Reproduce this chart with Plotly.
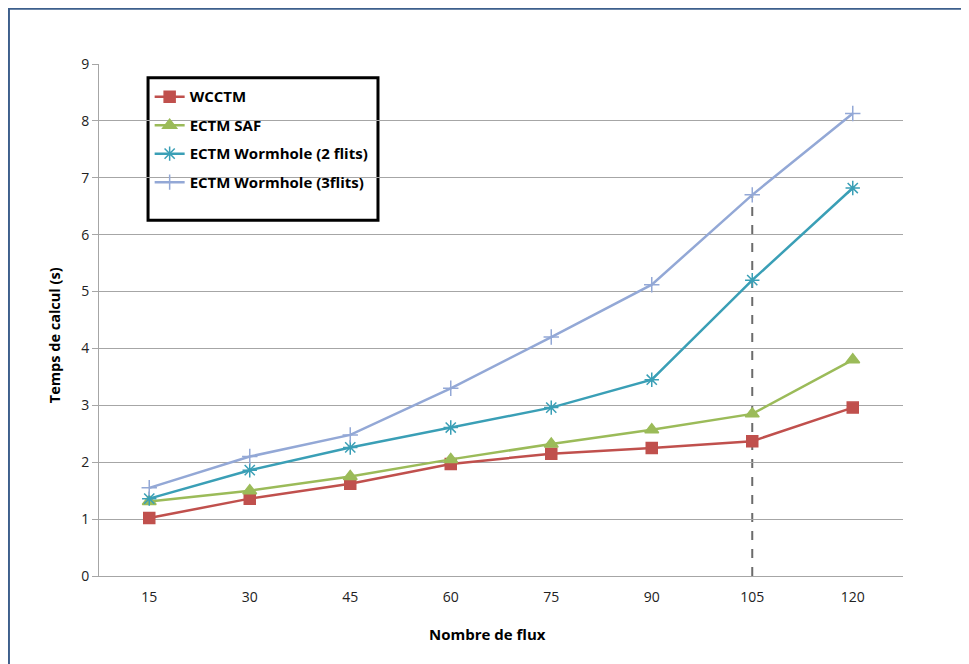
import plotly.graph_objects as go

# data
flux = ["15", "30", "45", "60", "75", "90", "105", "120"]
wcctm = [1.02, 1.36, 1.62, 1.97, 2.15, 2.25, 2.37, 2.96]
ectm_saf = [1.31, 1.50, 1.75, 2.05, 2.32, 2.57, 2.85, 3.80]
wormhole_2 = [1.36, 1.86, 2.26, 2.61, 2.96, 3.45, 5.20, 6.82]
wormhole_3 = [1.55, 2.10, 2.48, 3.30, 4.20, 5.12, 6.70, 8.13]
marker_flux = "105"
marker_top = 6.70

FONT = "Open Sans, Lato, sans-serif"

series = [
    ("WCCTM", wcctm, "#c0504d", "square", 11),
    ("ECTM SAF", ectm_saf, "#9bbb59", "triangle-up", 12),
    ("ECTM Wormhole (2 flits)", wormhole_2, "#3a9fb6", "asterisk-open", 12),
    ("ECTM Wormhole (3flits)", wormhole_3, "#93a8d6", "cross-thin-open", 11),
]

fig = go.Figure()
for i, (name, vals, color, symbol, size) in enumerate(series):
    fig.add_trace(go.Scatter(
        x=flux, y=vals, name=name, mode="lines+markers",
        legendgroup=str(i),
        line=dict(color=color, width=2.5),
        marker=dict(symbol=symbol, size=size, color=color,
                    line=dict(color=color, width=1.5)),
    ))

# dashed marker line at 105 (category index for the shape)
idx = flux.index(marker_flux)
fig.add_shape(type="line", xref="x", yref="y",
              x0=idx, x1=idx, y0=0, y1=marker_top,
              line=dict(color="#6b6b6b", width=2, dash="dash"), layer="below")

# frame around the picture (top and left visible)
fig.add_shape(type="rect", xref="paper", yref="paper",
              x0=-0.112, x1=1.2, y0=-0.3, y1=1.108,
              line=dict(color="#3d5f8c", width=2))

# legend box drawn separately (it is taller than the entries)
fig.add_shape(type="rect", xref="paper", yref="paper",
              x0=0.061, x1=0.347, y0=0.695, y1=0.973,
              line=dict(color="black", width=3), fillcolor="white", layer="below")

# axis titles as annotations so they sit where the reference puts them
fig.add_annotation(text="<b>Nombre de flux</b>", xref="paper", yref="paper",
                   x=0.483, y=-0.113, xanchor="center", yanchor="middle",
                   showarrow=False, font=dict(size=15, color="black"))
fig.add_annotation(text="<b>Temps de calcul (s)</b>", xref="paper", yref="paper",
                   x=-0.055, y=0.47, xanchor="center", yanchor="middle",
                   showarrow=False, textangle=-90,
                   font=dict(size=14.5, color="black"))

fig.update_layout(
    width=961, height=656,
    margin=dict(l=91, r=66, t=56, b=88),
    paper_bgcolor="white", plot_bgcolor="white",
    font=dict(family=FONT, size=14, color="#222222"),
    showlegend=True,
    legend=dict(
        x=0.063, y=0.968, xanchor="left", yanchor="top",
        bgcolor="rgba(0,0,0,0)", borderwidth=0,
        font=dict(family=FONT, size=15, color="black", weight="bold"),
        tracegroupgap=6, itemwidth=30,
    ),
    xaxis=dict(
        type="category", range=[-0.5, len(flux) - 0.5],
        showgrid=False, showline=True,
        linecolor="#a6a6a6", linewidth=1, ticks="",
        ticklabelstandoff=8,
    ),
    yaxis=dict(
        range=[0, 9], dtick=1, showgrid=True, gridcolor="#a6a6a6",
        showline=True, linecolor="#a6a6a6", linewidth=1,
        ticks="outside", ticklen=6, tickcolor="#a6a6a6",
        zeroline=False,
    ),
)

fig.write_html("out.html")
